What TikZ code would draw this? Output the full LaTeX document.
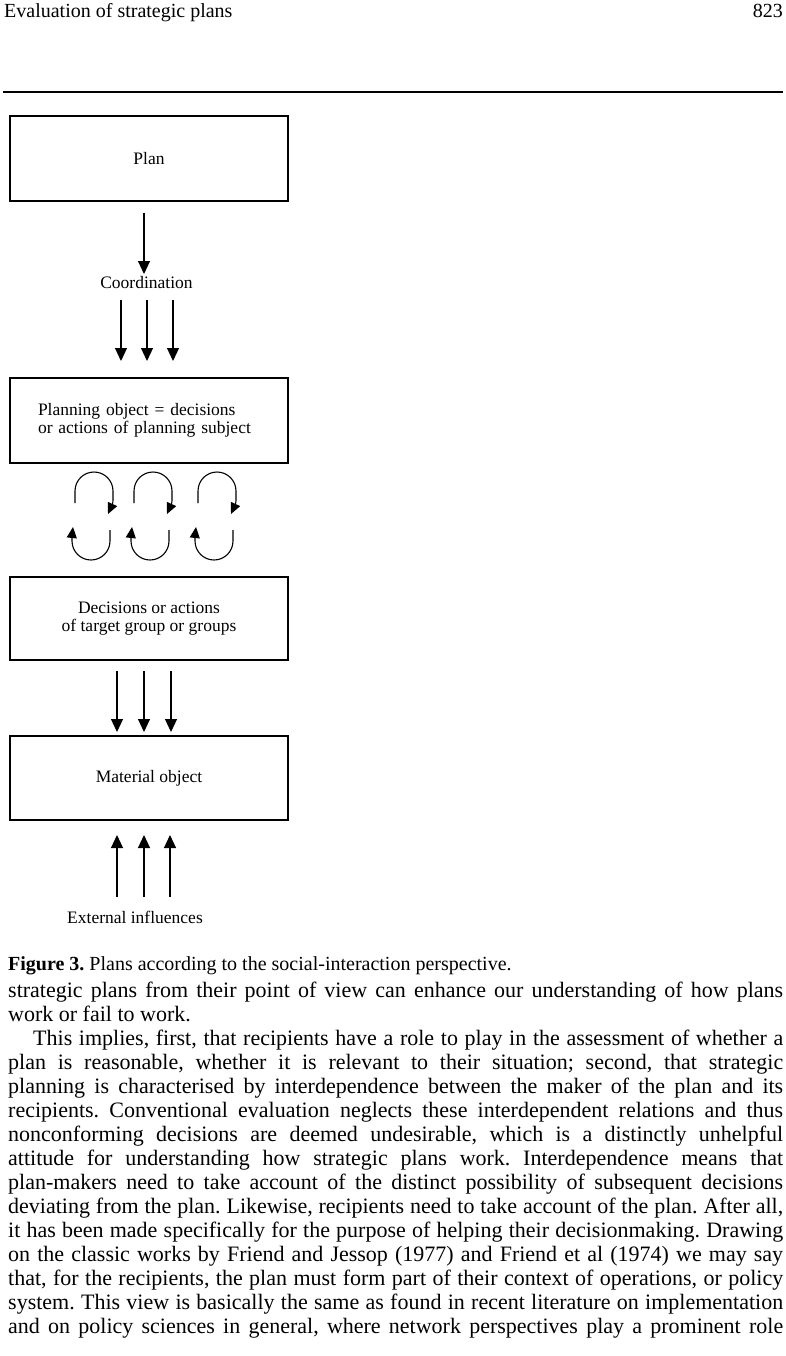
\documentclass[tikz,border=0pt]{standalone}
\usepackage{fontspec}
\setmainfont{Liberation Serif}
\usetikzlibrary{arrows.meta}
\frenchspacing
\begin{document}
\begin{tikzpicture}[x=1pt,y=-1pt,
  box/.style={draw, line width=1.1pt, minimum width=278pt, inner sep=0pt, font=\fontsize{17.5}{17.5}\selectfont},
  arr/.style={line width=1.1pt, -{Triangle[width=12pt,length=13pt]}},
  looparr/.style={line width=1.1pt, -{Triangle[width=10pt,length=11pt]}},
  dlab/.style={font=\fontsize{17.5}{17.5}\selectfont, inner sep=0pt},
  body/.style={anchor=base west, inner sep=0pt, font=\fontsize{22}{24}\selectfont},
  hdr/.style={inner sep=0pt, font=\fontsize{20}{22}\selectfont},
]
\useasboundingbox (0,0) rectangle (785,1356);

% header
\node[hdr, anchor=base west] (title) at (4,18) {Evaluation of strategic plans};
\node[hdr, anchor=base east] (page) at (783,18) {823};
\draw[line width=1.8pt] (3,92) -- (783,92);

% boxes
\node[box, minimum height=85pt] (plan) at (149,158.5) {Plan};
\node[dlab] (coord) at (146.5,283) {Coordination};
\node[box, minimum height=85pt, align=left, text width=222pt] (pobj) at (149,420.5)
  {Planning object = decisions\\or actions of planning subject};
\node[box, minimum height=83pt, align=center] (dec) at (149,618.5)
  {Decisions or actions\\of target group or groups};
\node[box, minimum height=84pt] (mat) at (149,778) {Material object};
\node[dlab] (ext) at (135,917) {External influences};

% plan -> coordination
\coordinate (p0) at (144,213);
\coordinate (p1) at (144,274);
\draw[arr] (p0) -- (p1);

% coordination -> planning object
\foreach \x [count=\i] in {121,147,173}{
  \coordinate (c\i a) at (\x,300);
  \coordinate (c\i b) at (\x,361);
  \draw[arr] (c\i a) -- (c\i b);
}

% interaction loops
\foreach \d [count=\i] in {0,59,123}{
  \coordinate (u\i s) at (75+\d,503);
  \coordinate (u\i e) at (108+\d,514);
  \draw[looparr] (u\i s) -- (75+\d,491) arc(180:360:19) .. controls (113+\d,503) .. (u\i e);
  \coordinate (l\i s) at (110+\d,530);
  \coordinate (l\i e) at (73+\d,527);
  \draw[looparr] (l\i s) -- (110+\d,541) arc(0:180:19) .. controls (72+\d,536) .. (l\i e);
}

% decisions -> material
\foreach \x [count=\i] in {117,144,171}{
  \coordinate (d\i a) at (\x,671);
  \coordinate (d\i b) at (\x,732);
  \draw[arr] (d\i a) -- (d\i b);
}

% external influences -> material
\foreach \x [count=\i] in {117,144,170}{
  \coordinate (e\i a) at (\x,897);
  \coordinate (e\i b) at (\x,835);
  \draw[arr] (e\i a) -- (e\i b);
}

% caption
\node[anchor=base west, inner sep=0pt, font=\fontsize{20}{22}\selectfont] (cap) at (8,970)
  {\textbf{Figure 3.} Plans according to the social-interaction perspective.};

% body text
\node[body] (t1) at (8,997) {\makebox[775pt][s]{strategic plans from their point of view can enhance our understanding of how plans}};
\node[body] (t2) at (8,1021) {work or fail to work.};
\node[body] (t3) at (33,1045) {\makebox[750pt][s]{This implies, first, that recipients have a role to play in the assessment of whether a}};
\node[body] (t4) at (8,1069) {\makebox[775pt][s]{plan is reasonable, whether it is relevant to their situation; second, that strategic}};
\node[body] (t5) at (8,1093) {\makebox[775pt][s]{planning is characterised by interdependence between the maker of the plan and its}};
\node[body] (t6) at (8,1117) {\makebox[775pt][s]{recipients. Conventional evaluation neglects these interdependent relations and thus}};
\node[body] (t7) at (8,1141) {\makebox[775pt][s]{nonconforming decisions are deemed undesirable, which is a distinctly unhelpful}};
\node[body] (t8) at (8,1165) {\makebox[775pt][s]{attitude for understanding how strategic plans work. Interdependence means that}};
\node[body] (t9) at (8,1189) {\makebox[775pt][s]{plan-makers need to take account of the distinct possibility of subsequent decisions}};
\node[body] (t10) at (8,1213) {\makebox[775pt][s]{deviating from the plan. Likewise, recipients need to take account of the plan. After all,}};
\node[body] (t11) at (8,1237) {\makebox[775pt][s]{it has been made specifically for the purpose of helping their decisionmaking. Drawing}};
\node[body] (t12) at (8,1261) {\makebox[775pt][s]{on the classic works by Friend and Jessop (1977) and Friend et al (1974) we may say}};
\node[body] (t13) at (8,1285) {\makebox[775pt][s]{that, for the recipients, the plan must form part of their context of operations, or policy}};
\node[body] (t14) at (8,1309) {\makebox[775pt][s]{system. This view is basically the same as found in recent literature on implementation}};
\node[body] (t15) at (8,1333) {\makebox[775pt][s]{and on policy sciences in general, where network perspectives play a prominent role}};
\end{tikzpicture}
\end{document}
